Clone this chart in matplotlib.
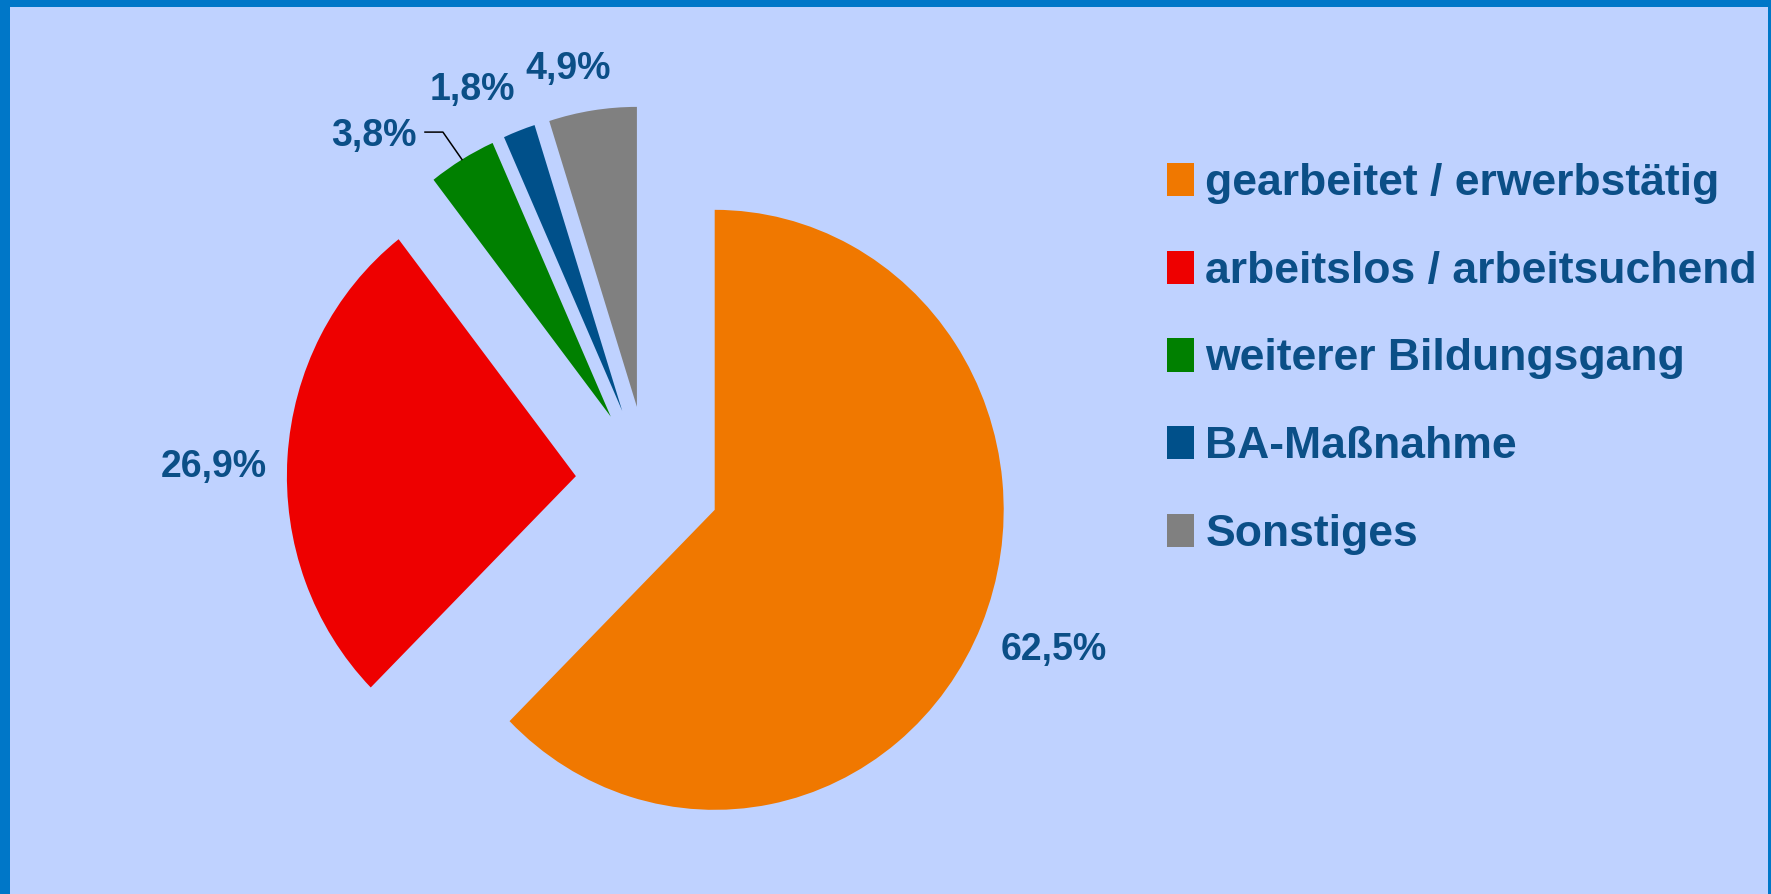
import numpy as np
import matplotlib.pyplot as plt

categories = ['gearbeitet / erwerbstätig', 'arbeitslos / arbeitsuchend',
              'weiterer Bildungsgang', 'BA-Maßnahme', 'Sonstiges']
shares = [62.5, 26.9, 3.8, 1.8, 4.9]
colors = ['#f07800', '#ee0000', '#008000', '#00508a', '#808080']

text_col = '#0b4f87'
plt.rcParams['font.family'] = ['Liberation Sans', 'DejaVu Sans']

W, H = 1771, 894
fig = plt.figure(figsize=(W / 100, H / 100), dpi=100, facecolor='#0077c8')
ax = fig.add_axes([10 / W, 0, 1758 / W, 887 / H])

pct_labels = [f'{v:.1f}%'.replace('.', ',') for v in shares]
wedges, texts = ax.pie(shares, colors=colors, startangle=90, counterclock=False,
                       explode=[0.25] * len(shares), labels=pct_labels,
                       labeldistance=1.07, wedgeprops=dict(linewidth=0),
                       textprops=dict(color=text_col, fontsize=27,
                                      fontweight='bold'))

# big slices: labels sit a little lower than the default spot
for t, dy in zip(texts[:2], [0.055, 0.04]):
    x, y = t.get_position()
    t.set_position((x, y - dy))

# small slices: labels moved up, green one with a leader line
line_y = 1.163
small_pos = {2: (-0.80, 1.15, 'right'), 3: (-0.606, 1.305, 'center'),
             4: (-0.277, 1.373, 'center')}
for i, (x, y, ha) in small_pos.items():
    texts[i].set_position((x, y))
    texts[i].set_ha(ha)

w = wedges[2]
mid = np.deg2rad((w.theta1 + w.theta2) / 2)
cx, cy = w.center
p0 = (cx + w.r * np.cos(mid), cy + w.r * np.sin(mid))
p1 = (p0[0] - 0.066, line_y)
p2 = (p1[0] - 0.062, line_y)
ax.plot([p0[0], p1[0], p2[0]], [p0[1], p1[1], p2[1]], color='black', lw=1.1)

ax.set_aspect('auto')
ax.set_xlim((10 - 648) / 289, (1768 - 648) / 289)
ax.set_ylim(-(894 - 481) / 300, (481 - 7) / 300)
ax.set_frame_on(True)
ax.set_facecolor('#bfd2ff')
for s in ax.spines.values():
    s.set_visible(False)

leg = fig.legend(wedges, categories, loc='upper left',
                 bbox_to_anchor=(1167 / W, 1 - 163 / H), frameon=False,
                 fontsize=32, handlelength=0.61, handleheight=0.77,
                 handletextpad=0.25, labelspacing=1.05, borderpad=0,
                 borderaxespad=0)
for t in leg.get_texts():
    t.set_color(text_col)
    t.set_fontweight('bold')

fig.savefig('out.png', dpi=100, facecolor=fig.get_facecolor())
